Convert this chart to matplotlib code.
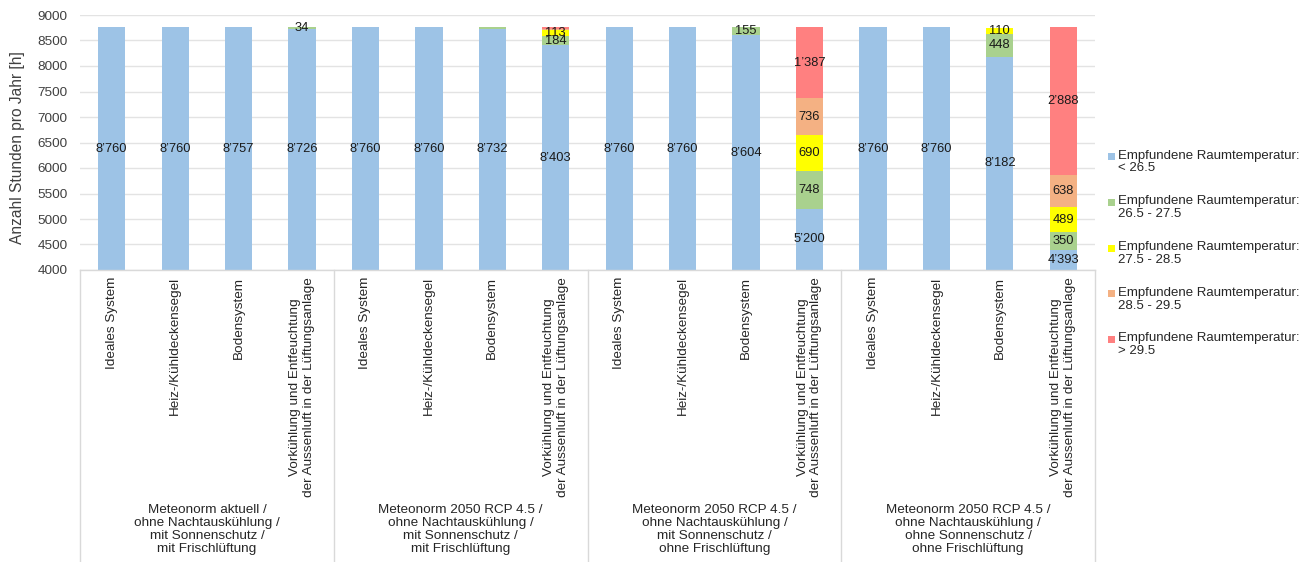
import matplotlib
matplotlib.use("Agg")
import matplotlib.pyplot as plt
from matplotlib.patches import Rectangle
from matplotlib.lines import Line2D
from matplotlib.transforms import blended_transform_factory
import numpy as np

plt.rcParams['font.family'] = ['Liberation Sans', 'DejaVu Sans']

# Systems (inner category level) and scenarios (outer category level)
systems = [
    "Ideales System",
    "Heiz-/Kühldeckensegel",
    "Bodensystem",
    "Vorkühlung und Entfeuchtung\nder Aussenluft in der Lüftungsanlage",
]
scenarios = [
    "Meteonorm aktuell /\nohne Nachtauskühlung /\nmit Sonnenschutz /\nmit Frischlüftung",
    "Meteonorm 2050 RCP 4.5 /\nohne Nachtauskühlung /\nmit Sonnenschutz /\nmit Frischlüftung",
    "Meteonorm 2050 RCP 4.5 /\nohne Nachtauskühlung /\nmit Sonnenschutz /\nohne Frischlüftung",
    "Meteonorm 2050 RCP 4.5 /\nohne Nachtauskühlung /\nohne Sonnenschutz /\nohne Frischlüftung",
]

series_labels = [
    "Empfundene Raumtemperatur:\n< 26.5",
    "Empfundene Raumtemperatur:\n26.5 - 27.5",
    "Empfundene Raumtemperatur:\n27.5 - 28.5",
    "Empfundene Raumtemperatur:\n28.5 - 29.5",
    "Empfundene Raumtemperatur:\n> 29.5",
]
series_colors = ["#9DC3E6", "#A9D18E", "#FFFF00", "#F4B183", "#FF8080"]

# Hours per year in each perceived room temperature band (16 bars)
hours_below_265 = [8760, 8760, 8757, 8726, 8760, 8760, 8732, 8403,
                   8760, 8760, 8604, 5200, 8760, 8760, 8182, 4393]
hours_265_275 = [0, 0, 3, 34, 0, 0, 28, 184,
                 0, 0, 155, 748, 0, 0, 448, 350]
hours_275_285 = [0, 0, 0, 0, 0, 0, 0, 113,
                 0, 0, 0, 690, 0, 0, 110, 489]
hours_285_295 = [0, 0, 0, 0, 0, 0, 0, 30,
                 0, 0, 0, 736, 0, 0, 0, 638]
hours_above_295 = [0, 0, 0, 0, 0, 0, 0, 30,
                   0, 0, 0, 1387, 0, 0, 0, 2888]

yticks = [4000, 4500, 5000, 5500, 6000, 6500, 7000, 7500, 8000, 8500, 9000]
label_min = 34  # smaller segments carry no value label

series = [hours_below_265, hours_265_275, hours_275_285, hours_285_295, hours_above_295]

W, H = 1315, 562
fig = plt.figure(figsize=(W / 100, H / 100), dpi=100)
ax = fig.add_axes([80 / W, 1 - 270 / H, 1015 / W, (270 - 15) / H])

n = len(systems) * len(scenarios)
x = np.arange(n)
ymin, ymax = yticks[0], yticks[-1]

bottom = np.zeros(n)
for vals, col in zip(series, series_colors):
    vals = np.array(vals, dtype=float)
    ax.bar(x, vals, bottom=bottom, width=0.43, color=col, linewidth=0, zorder=2)
    for xi, b, v in zip(x, bottom, vals):
        if v >= label_min:
            lo = max(b, ymin)
            hi = min(b + v, ymax)
            txt = f"{int(v):,}".replace(",", "\u2019")
            ax.text(xi, (lo + hi) / 2, txt, ha="center", va="center",
                    fontsize=9.3, color="#1a1a1a", zorder=3)
    bottom += vals

ax.set_ylim(ymin, ymax)
ax.set_xlim(-0.5, n - 0.5)
ax.set_yticks(yticks)
ax.set_yticklabels([str(t) for t in yticks], fontsize=9.7, color="#404040")
ax.tick_params(axis="y", length=0, pad=9)
ax.yaxis.grid(True, color="#E3E3E3", linewidth=1.0)
ax.set_axisbelow(True)

ax.set_xticks(x)
ax.set_xticklabels(systems * len(scenarios), rotation=90, fontsize=9.7,
                   color="#262626", multialignment="center")
ax.tick_params(axis="x", length=0, pad=5)

for side in ["left", "right", "top"]:
    ax.spines[side].set_visible(False)
ax.spines["bottom"].set_color("#D9D9D9")
ax.spines["bottom"].set_linewidth(1.0)

ax.set_ylabel("Anzahl Stunden pro Jahr [h]", fontsize=11.2, color="#404040", va="center")
ax.yaxis.set_label_coords((18 - 80) / 1015, 0.48)

# Scenario group separators and labels below the axis
trans = blended_transform_factory(ax.transData, fig.transFigure)
axis_bottom = 1 - 270 / H
for g in range(len(scenarios) + 1):
    xb = g * len(systems) - 0.5
    ax.add_line(Line2D([xb, xb], [axis_bottom, 0], transform=trans,
                       color="#D9D9D9", linewidth=1.0, clip_on=False))
for g, name in enumerate(scenarios):
    xc = g * len(systems) + (len(systems) - 1) / 2
    ax.text(xc, 1 - 504 / H, name, transform=trans, ha="center", va="top",
            fontsize=9.7, color="#262626", linespacing=1.12,
            multialignment="center")

# Legend on the right, marker beside the first line of each entry
for i, (lab, col) in enumerate(zip(series_labels, series_colors)):
    cap_top = 152 + 45.75 * i
    fig.patches.append(Rectangle((1108 / W, 1 - (cap_top + 8) / H), 7 / W, 7 / H,
                                 transform=fig.transFigure, facecolor=col,
                                 edgecolor="none"))
    fig.text(1118 / W, 1 - (cap_top - 2.5) / H, lab, ha="left", va="top",
             fontsize=9.5, color="#262626", linespacing=1.1)

fig.savefig("out.png", dpi=100, facecolor="white")
